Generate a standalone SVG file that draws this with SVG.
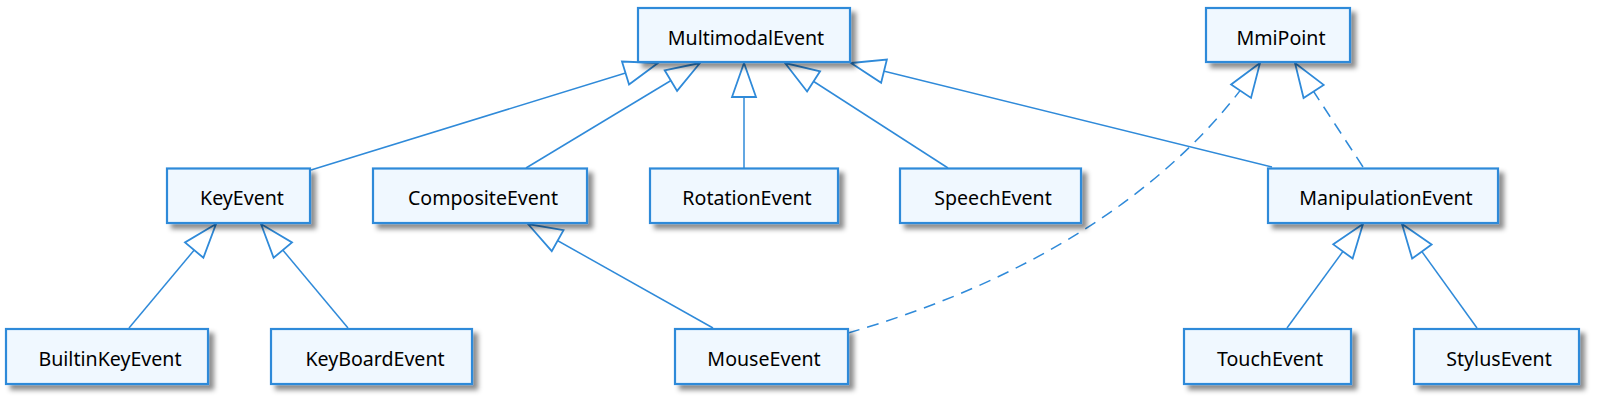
<svg xmlns="http://www.w3.org/2000/svg" width="1602" height="404" viewBox="0 0 1602 404">
<style>
.box{fill:#f0f8ff;stroke:#2f8ad9;stroke-width:2.2;filter:url(#sh)}
.lbl{font-family:"Noto Sans","DejaVu Sans",sans-serif;font-size:19.6px;fill:#000;text-anchor:middle}
.c{fill:none;stroke:#2f8ad9;stroke-width:1.5;marker-end:url(#tri)}
.d{stroke-dasharray:12,8}
</style>
<defs>
<filter id="sh" x="-10%" y="-20%" width="130%" height="160%">
<feDropShadow dx="5" dy="5" stdDeviation="2.5" flood-color="#000" flood-opacity="0.45"/>
</filter>
<marker id="tri" viewBox="-38 -15 40 30" refX="0" refY="0" markerWidth="40" markerHeight="30" markerUnits="userSpaceOnUse" orient="auto">
<path d="M0,0 L-34,-12 L-34,12 Z" fill="#fff" stroke="#2f8ad9" stroke-width="1.8" stroke-linejoin="miter"/>
</marker>
</defs>
<g id="connectors">
<path class="c" d="M311,170 L658,63"/>
<path class="c" d="M526,168 L700,63"/>
<path class="c" d="M744,168 L744,63"/>
<path class="c" d="M948,168 L785,63"/>
<path class="c" d="M1272,167 L851,63"/>
<path class="c d" d="M1363,167 L1295,63"/>
<path class="c d" d="M848,333 C990,292 1160,212 1260,63"/>
<path class="c" d="M129,328 L216,224"/>
<path class="c" d="M348,328 L261,224"/>
<path class="c" d="M713,328 L528,224"/>
<path class="c" d="M1287,328 L1363,224"/>
<path class="c" d="M1477,328 L1402,224"/>
</g>
<g id="MultimodalEvent"><rect class="box" x="638" y="8" width="212" height="54"/><text class="lbl" x="746" y="44.5">MultimodalEvent</text></g>
<g id="MmiPoint"><rect class="box" x="1206" y="8" width="144" height="54"/><text class="lbl" x="1281" y="44.5">MmiPoint</text></g>
<g id="KeyEvent"><rect class="box" x="167" y="168.5" width="143" height="54.5"/><text class="lbl" x="242" y="204.5">KeyEvent</text></g>
<g id="CompositeEvent"><rect class="box" x="373" y="168.5" width="214" height="54.5"/><text class="lbl" x="483" y="204.5">CompositeEvent</text></g>
<g id="RotationEvent"><rect class="box" x="650" y="168.5" width="188" height="54.5"/><text class="lbl" x="747" y="204.5">RotationEvent</text></g>
<g id="SpeechEvent"><rect class="box" x="900" y="168.5" width="181" height="54.5"/><text class="lbl" x="993" y="204.5">SpeechEvent</text></g>
<g id="ManipulationEvent"><rect class="box" x="1268" y="168.5" width="230" height="54.5"/><text class="lbl" x="1386" y="204.5">ManipulationEvent</text></g>
<g id="BuiltinKeyEvent"><rect class="box" x="6" y="329" width="202" height="55"/><text class="lbl" x="110" y="365.5">BuiltinKeyEvent</text></g>
<g id="KeyBoardEvent"><rect class="box" x="271" y="329" width="201" height="55"/><text class="lbl" x="375" y="365.5">KeyBoardEvent</text></g>
<g id="MouseEvent"><rect class="box" x="675" y="329" width="173" height="55"/><text class="lbl" x="764" y="365.5">MouseEvent</text></g>
<g id="TouchEvent"><rect class="box" x="1184" y="329" width="167" height="55"/><text class="lbl" x="1270" y="365.5">TouchEvent</text></g>
<g id="StylusEvent"><rect class="box" x="1414" y="329" width="165" height="55"/><text class="lbl" x="1499" y="365.5">StylusEvent</text></g>
</svg>
